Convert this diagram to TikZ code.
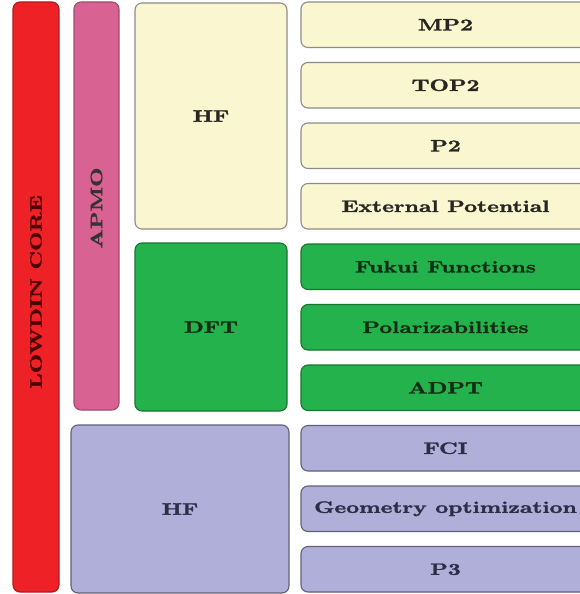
\documentclass[tikz,border=0pt]{standalone}
\usepackage{fontspec}
\usepackage{graphicx}
\newfontfamily\lblfont{lmroman10-bold.otf}[FakeBold=1.6]
\definecolor{cred}{RGB}{238,34,38}
\definecolor{cpink}{RGB}{216,98,145}
\definecolor{ccream}{RGB}{249,246,208}
\definecolor{cgreen}{RGB}{36,178,76}
\definecolor{cpurple}{RGB}{175,175,218}
\definecolor{tcream}{RGB}{40,38,34}
\definecolor{tgreen}{RGB}{18,45,22}
\definecolor{tpurple}{RGB}{45,45,72}
\newcommand\lbl[1]{\scalebox{1.36}[1]{\fontsize{16.5}{19}\lblfont #1}}
\tikzset{
  blk/.style={draw, rounded corners=7pt, line width=1.1pt, inner sep=0pt, outer sep=0pt},
  redb/.style={blk, fill=cred, draw=cred!75!black},
  pinkb/.style={blk, fill=cpink, draw=cpink!75!black, text=black!85},
  creamb/.style={blk, fill=ccream, draw=black!45, text=tcream},
  greenb/.style={blk, fill=cgreen, draw=cgreen!65!black, text=tgreen},
  purpb/.style={blk, fill=cpurple, draw=cpurple!55!black, text=tpurple},
  rowb/.style={minimum width=289pt, minimum height=45.5pt},
}
\begin{document}
\begin{tikzpicture}[x=1pt,y=1pt]
\useasboundingbox (0,0) rectangle (579,-594);
\fill[white] (0,0) rectangle (579,-594);
% left columns
\node[redb, minimum width=46pt, minimum height=590pt] (core) at (36,-297) {};
\node[rotate=90, text=red!30!black] (corel) at ([yshift=5pt]core.center) {\lbl{LOWDIN CORE}};
\node[pinkb, minimum width=45pt, minimum height=408pt] (apmo) at (96.5,-206) {};
\node[rotate=90, text=black!80] (apmol) at ([yshift=-2pt]apmo.center) {\lbl{APMO}};
\node[creamb, minimum width=152pt, minimum height=226pt] (hf1) at (211,-116) {\lbl{HF}};
\node[greenb, minimum width=152pt, minimum height=168pt] (dft) at (211,-327) {\lbl{DFT}};
\node[purpb, minimum width=218pt, minimum height=168pt] (hf2) at (180,-509) {\lbl{HF}};
% right rows
\node[creamb, rowb] (mp2) at (445.5,-24.75) {\lbl{MP2}};
\node[creamb, rowb] (top2) at (445.5,-85.25) {\lbl{TOP2}};
\node[creamb, rowb] (p2) at (445.5,-145.75) {\lbl{P2}};
\node[creamb, rowb] (ext) at (445.5,-206.25) {\lbl{External Potential}};
\node[greenb, rowb] (fukui) at (445.5,-266.75) {\lbl{Fukui Functions}};
\node[greenb, rowb] (pol) at (445.5,-327.25) {\lbl{Polarizabilities}};
\node[greenb, rowb] (adpt) at (445.5,-387.75) {\lbl{ADPT}};
\node[purpb, rowb] (fci) at (445.5,-448.25) {\lbl{FCI}};
\node[purpb, rowb] (geo) at (445.5,-508.75) {\lbl{Geometry optimization}};
\node[purpb, rowb] (p3) at (445.5,-569.25) {\lbl{P3}};
\end{tikzpicture}
\end{document}
